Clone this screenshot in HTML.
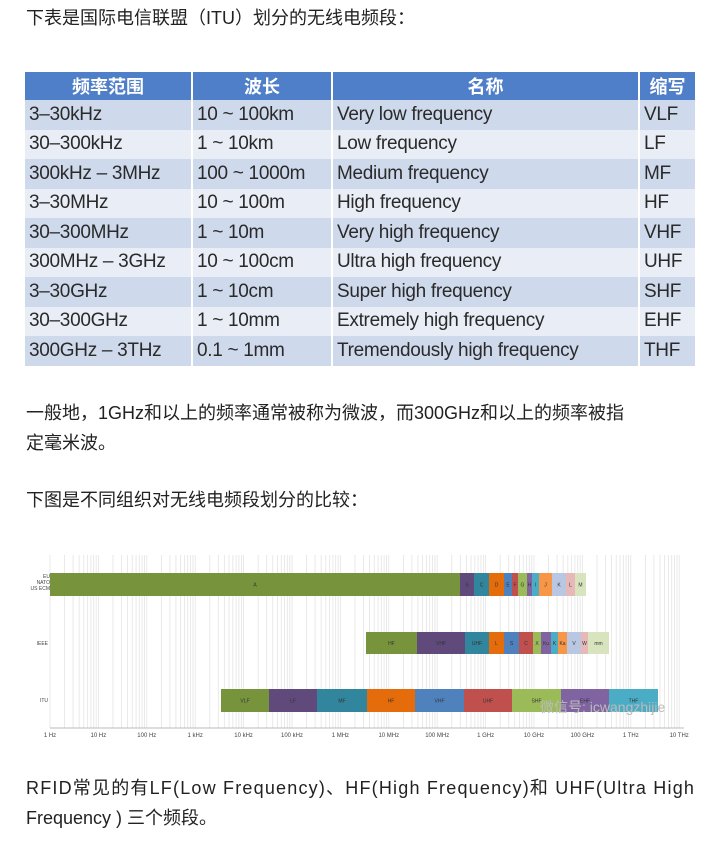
<!DOCTYPE html>
<html><head><meta charset="utf-8"><style>
body{margin:0;width:725px;height:846px;background:#fff;position:relative;overflow:hidden;font-family:"Liberation Sans","Noto Sans CJK SC",sans-serif;color:#222}
.p{position:absolute;left:26px;font-size:18px;line-height:30px;width:690px}
table{position:absolute;left:25px;top:72px;width:672px;border-collapse:collapse;font-family:"Liberation Sans","Noto Sans CJK SC",sans-serif;font-size:19px;color:#2a2a2a}
td{height:29.5px;padding:0 0 0 4px;border-right:2px solid #fff;white-space:nowrap;letter-spacing:-0.3px}
th{height:23px;background:#4f7fc8;color:#fff;font-size:18px;font-weight:bold;border-right:2px solid #fff}
tr.a td{background:#cfd9ec}tr.b td{background:#e8edf6}
</style></head><body>
<div class="p" style="top:3px">下表是国际电信联盟（ITU）划分的无线电频段：</div>
<table>
<tr><th style="width:164px">频率范围</th><th style="width:136px">波长</th><th style="width:303px">名称</th><th>缩写</th></tr>
<tr class="a"><td>3–30kHz</td><td>10 ~ 100km</td><td>Very low frequency</td><td>VLF</td></tr>
<tr class="b"><td>30–300kHz</td><td>1 ~ 10km</td><td>Low frequency</td><td>LF</td></tr>
<tr class="a"><td>300kHz – 3MHz</td><td>100 ~ 1000m</td><td>Medium frequency</td><td>MF</td></tr>
<tr class="b"><td>3–30MHz</td><td>10 ~ 100m</td><td>High frequency</td><td>HF</td></tr>
<tr class="a"><td>30–300MHz</td><td>1 ~ 10m</td><td>Very high frequency</td><td>VHF</td></tr>
<tr class="b"><td>300MHz – 3GHz</td><td>10 ~ 100cm</td><td>Ultra high frequency</td><td>UHF</td></tr>
<tr class="a"><td>3–30GHz</td><td>1 ~ 10cm</td><td>Super high frequency</td><td>SHF</td></tr>
<tr class="b"><td>30–300GHz</td><td>1 ~ 10mm</td><td>Extremely high frequency</td><td>EHF</td></tr>
<tr class="a"><td>300GHz – 3THz</td><td>0.1 ~ 1mm</td><td>Tremendously high frequency</td><td>THF</td></tr>
</table>
<div class="p" style="top:398px">一般地，1GHz和以上的频率通常被称为微波，而300GHz和以上的频率被指<br>定毫米波。</div>
<div class="p" style="top:485px">下图是不同组织对无线电频段划分的比较：</div>
<svg style="position:absolute;left:0;top:550px" width="725" height="200" viewBox="0 550 725 200" font-family="Liberation Sans,sans-serif">
<g id="grid" stroke="#e4e4e4" stroke-width="0.8"></g>
<line x1="50" y1="728" x2="684" y2="728" stroke="#bbb"/>
<g id="bars" font-size="5" fill="#333" text-anchor="middle"></g>
<g id="ticks" font-size="6" fill="#444" text-anchor="middle"></g>
<g font-size="5" fill="#444" text-anchor="end">
<text x="50" y="578">EU</text><text x="50" y="584">NATO</text><text x="50" y="590">US ECM</text>
<text x="48" y="645">IEEE</text><text x="48" y="702">ITU</text></g>
<text x="540" y="712" font-size="14" fill="#bbb" font-family="Liberation Sans,Noto Sans CJK SC,sans-serif">微信号: icwangzhijie</text>
</svg>
<div class="p" style="top:773px;white-space:nowrap;letter-spacing:1.2px">RFID常见的有LF(Low Frequency)、HF(High Frequency)和 UHF(Ultra High</div>
<div class="p" style="top:803px">Frequency ) 三个频段。</div>
<script>
var ns="http://www.w3.org/2000/svg";
function el(p,t,a,txt){var e=document.createElementNS(ns,t);for(var k in a)e.setAttribute(k,a[k]);if(txt)e.textContent=txt;document.getElementById(p).appendChild(e);}
var x0=50,d=48.4;
for(var i=0;i<13;i++)for(var m=1;m<10;m++){var x=x0+d*(i+Math.log10(m));el("grid","line",{x1:x,x2:x,y1:555,y2:728});}
el("grid","line",{x1:x0+13*d,x2:x0+13*d,y1:555,y2:728});
var lab=["1 Hz","10 Hz","100 Hz","1 kHz","10 kHz","100 kHz","1 MHz","10 MHz","100 MHz","1 GHz","10 GHz","100 GHz","1 THz","10 THz"];
lab.forEach(function(l,i){el("ticks","text",{x:x0+d*i,y:737},l)});
var C={g:"#77933c",p:"#604a7b",t:"#31859c",o:"#e46c0a",b:"#4f81bd",r:"#c0504d",lg:"#9bbb59",lp:"#8064a2",lt:"#4bacc6",lo:"#f79646",lb:"#b9c7e3",pk:"#e6b9b8",lgr:"#d7e4bd"};
function row(y,h,segs){segs.forEach(function(s){el("bars","rect",{x:s[0],y:y,width:s[1]-s[0],height:h,fill:C[s[2]]});el("bars","text",{x:(s[0]+s[1])/2,y:y+h/2+2},s[3]);});}
row(573,23,[[50,460,"g","A"],[460,474,"p","S"],[474,489,"t","C"],[489,504,"o","D"],[504,512,"b","E"],[512,518,"r","F"],[518,527,"lg","G"],[527,532,"lp","H"],[532,539,"lt","I"],[539,552,"lo","J"],[552,566,"lb","K"],[566,575,"pk","L"],[575,586,"lgr","M"]]);
row(632,22,[[366,417,"g","HF"],[417,465,"p","VHF"],[465,489,"t","UHF"],[489,504,"o","L"],[504,519,"b","S"],[519,533,"r","C"],[533,541,"lg","X"],[541,551,"lp","Ku"],[551,558,"lt","K"],[558,567,"lo","Ka"],[567,581,"lb","V"],[581,588,"pk","W"],[588,609,"lgr","mm"]]);
row(689,23,[[221,269,"g","VLF"],[269,317,"p","LF"],[317,367,"t","MF"],[367,415,"o","HF"],[415,464,"b","VHF"],[464,512,"r","UHF"],[512,561,"lg","SHF"],[561,609,"lp","EHF"],[609,658,"lt","THF"]]);
</script>
</body></html>
